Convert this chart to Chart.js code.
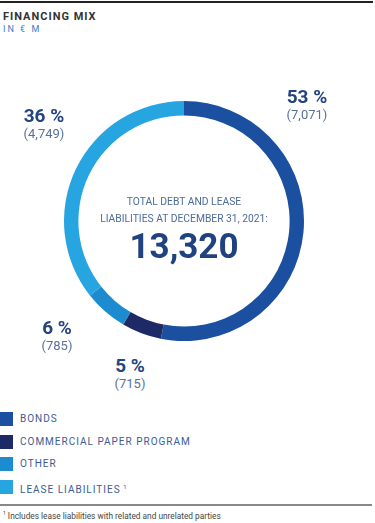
<!DOCTYPE html>
<html>
<head>
<meta charset="utf-8">
<script src="https://cdn.jsdelivr.net/npm/chart.js@4/dist/chart.umd.min.js"></script>
<style>
  body { margin: 0; width: 375px; height: 523px; background: #fff; position: relative; overflow: hidden; font-family: Roboto, "Open Sans", sans-serif; }
  .topline { position: absolute; left: 0; top: 1px; width: 373px; height: 2px; background: #222; }
  .title { position: absolute; left: 3px; top: 10px; font-size: 11px; font-weight: bold; letter-spacing: 1px; color: #333; }
  .unit { position: absolute; left: 3px; top: 24px; font-size: 9px; letter-spacing: 2px; color: #3a7cc9; }
  #wrap { position: absolute; left: 64px; top: 101px; width: 240px; height: 240px; }
  .lbl { position: absolute; text-align: center; width: 90px; }
  .lbl .p { font-size: 19px; font-weight: bold; color: #23447f; line-height: 20px; }
  .lbl .v { font-size: 13px; color: #5b6f9c; line-height: 16px; }
  .center { position: absolute; left: 64px; top: 193px; width: 240px; text-align: center; color: #4d6b9b; font-size: 10.3px; line-height: 17px; }
  .center .big { font-size: 35px; font-weight: bold; color: #1f4280; line-height: 36px; margin-top: 2px; }
  .legend { position: absolute; left: 0; top: 412px; }
  .legend div { height: 22.5px; font-size: 10px; letter-spacing: 1px; color: #3b5c95; display: flex; align-items: flex-start; }
  .legend span.sw { display: inline-block; width: 13px; height: 14px; margin-right: 7px; }
  .legend span.t { line-height: 14px; }
  .sep { position: absolute; left: 0; top: 504px; width: 372px; height: 2px; background: #888; }
  .foot { position: absolute; left: 3px; top: 510px; font-size: 8.3px; color: #444; }
</style>
</head>
<body>
<div class="topline"></div>
<div class="title">FINANCING MIX</div>
<div class="unit">IN € M</div>
<div id="wrap"><canvas id="donut"></canvas></div>
<div class="center" id="center"></div>
<div id="labels"></div>
<div class="legend" id="legend"></div>
<div class="sep"></div>
<div class="foot"><sup style="font-size:5px">1</sup> Includes lease liabilities with related and unrelated parties</div>

<script>
const categories = ['BONDS', 'COMMERCIAL PAPER PROGRAM', 'OTHER', 'LEASE LIABILITIES'];
const values = [7071, 715, 785, 4749];
const percents = [53, 5, 6, 36];
const total = 13320;
const colors = ['#1b4f9f', '#1e2a66', '#1d8bcf', '#27a5e0'];

// where the outside labels sit (centre x, top y)
const labelPos = [[307, 87], [130, 356], [57, 318], [44, 106]];

function fmt(n) {
  return n.toLocaleString('en-US');
}

const data = {
  labels: categories,
  datasets: [{
    data: values,
    backgroundColor: colors,
    borderWidth: 0
  }]
};

const config = {
  type: 'doughnut',
  data: data,
  options: {
    responsive: true,
    maintainAspectRatio: false,
    animation: false,
    cutout: '88%',
    rotation: 0,
    layout: { padding: 0 },
    plugins: {
      legend: { display: false },
      tooltip: { enabled: false }
    }
  }
};

var donut = new Chart(document.getElementById('donut'), config);

document.getElementById('center').innerHTML =
  'TOTAL DEBT AND LEASE<br>LIABILITIES AT DECEMBER 31, 2021:<div class="big">' + fmt(total) + '</div>';

let labelsHtml = '';
values.forEach(function(v, i) {
  labelsHtml += '<div class="lbl" style="left:' + (labelPos[i][0] - 45) + 'px;top:' + labelPos[i][1] + 'px">' +
    '<div class="p">' + percents[i] + ' %</div><div class="v">(' + fmt(v) + ')</div></div>';
});
document.getElementById('labels').innerHTML = labelsHtml;

let legendHtml = '';
categories.forEach(function(c, i) {
  let sup = i == 3 ? '<sup style="font-size:6px"> 1</sup>' : '';
  legendHtml += '<div><span class="sw" style="background:' + colors[i] + '"></span><span class="t">' + c + sup + '</span></div>';
});
document.getElementById('legend').innerHTML = legendHtml;
</script>
</body>
</html>
